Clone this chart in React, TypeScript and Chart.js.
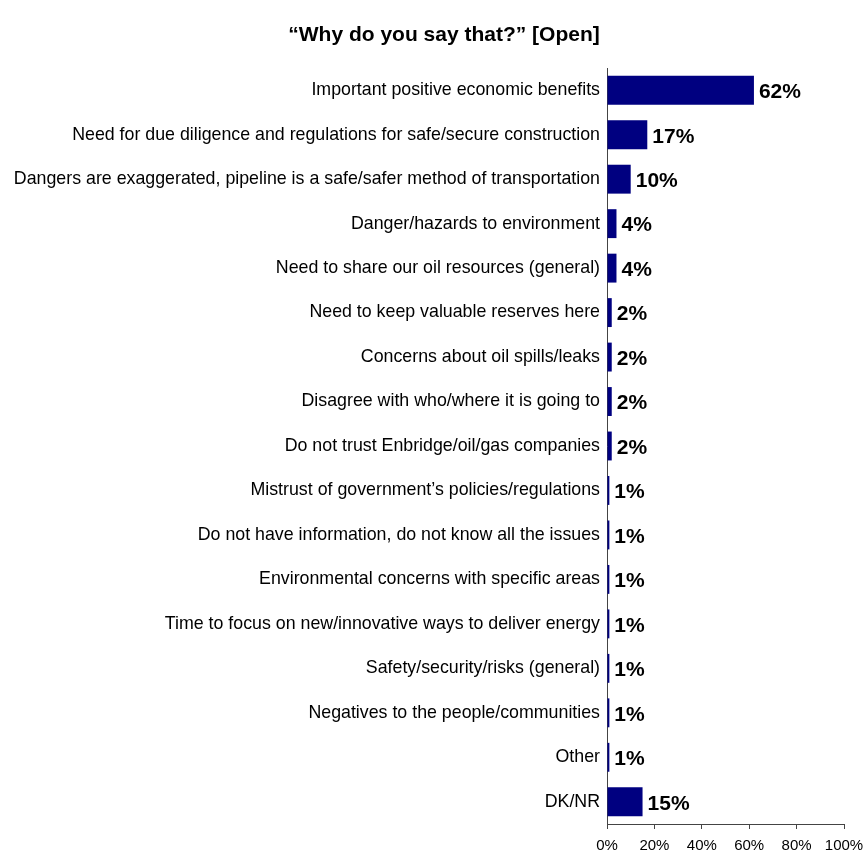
import React, { useEffect, useRef } from "react";
import { Chart, registerables } from "chart.js";

Chart.register(...registerables);

const TITLE = "\u201CWhy do you say that?\u201D [Open]";

const categories: string[] = [
  "Important positive economic benefits",
  "Need for due diligence and regulations for safe/secure construction",
  "Dangers are exaggerated, pipeline is a safe/safer method of transportation",
  "Danger/hazards to environment",
  "Need to share our oil resources (general)",
  "Need to keep valuable reserves here",
  "Concerns about oil spills/leaks",
  "Disagree with who/where it is going to",
  "Do not trust Enbridge/oil/gas companies",
  "Mistrust of government\u2019s policies/regulations",
  "Do not have information, do not know all the issues",
  "Environmental concerns with specific areas",
  "Time to focus on new/innovative ways to deliver energy",
  "Safety/security/risks (general)",
  "Negatives to the people/communities",
  "Other",
  "DK/NR",
];

const values: number[] = [62, 17, 10, 4, 4, 2, 2, 2, 2, 1, 1, 1, 1, 1, 1, 1, 15];

const xTicks: number[] = [0, 20, 40, 60, 80, 100];

const FAMILY = "'Liberation Sans', Arial, sans-serif";

export default function App() {
  const ref = useRef<HTMLCanvasElement | null>(null);

  useEffect(() => {
    document.body.style.margin = "0";

    const overlay = {
      id: "overlay",
      afterDraw(chart: any) {
        const ctx = chart.ctx;
        ctx.save();
        ctx.fillStyle = "#000";
        ctx.font = `bold 21px ${FAMILY}`;
        ctx.textAlign = "center";
        ctx.textBaseline = "middle";
        ctx.fillText(TITLE, 444, 35);
        const meta = chart.getDatasetMeta(0);
        ctx.font = `bold 21px ${FAMILY}`;
        ctx.textAlign = "left";
        meta.data.forEach((bar: any, i: number) => {
          ctx.fillText(values[i] + "%", bar.x + 5, bar.y + 2);
        });
        ctx.restore();
      },
    };

    const chart = new Chart(ref.current!, {
      type: "bar",
      data: {
        labels: categories,
        datasets: [
          {
            data: values,
            backgroundColor: "#000080",
            borderWidth: 0,
            barPercentage: 1,
            categoryPercentage: 0.65,
          },
        ],
      },
      options: {
        indexAxis: "y",
        animation: false,
        responsive: false,
        maintainAspectRatio: false,
        layout: { padding: { top: 68, right: 23, left: 0, bottom: 0 } },
        plugins: {
          legend: { display: false },
          title: { display: false },
          tooltip: { enabled: false },
        },
        scales: {
          y: {
            afterFit: (axis: any) => {
              axis.width = 607;
              axis.paddingTop = 0;
              axis.paddingBottom = 0;
            },
            grid: { display: false, drawTicks: false },
            border: { display: true, color: "#444", width: 1 },
            ticks: {
              color: "#000",
              font: { family: FAMILY, size: 17.8 },
              padding: 7,
              autoSkip: false,
            },
          },
          x: {
            min: 0,
            max: 100,
            afterFit: (axis: any) => {
              axis.height = 28;
              axis.paddingLeft = 0;
              axis.paddingRight = 0;
            },
            afterBuildTicks: (axis: any) => {
              axis.ticks = xTicks.map((v) => ({ value: v }));
            },
            grid: {
              display: true,
              drawOnChartArea: false,
              drawTicks: true,
              tickLength: 5,
              color: "#444",
            },
            border: { display: true, color: "#444", width: 1 },
            ticks: {
              color: "#000",
              font: { family: FAMILY, size: 15 },
              padding: 8,
              maxRotation: 0,
              callback: (v: any) => v + "%",
            },
          },
        },
      },
      plugins: [overlay],
    });
    return () => chart.destroy();
  }, []);

  return (
    <div style={{ width: 867, height: 852 }}>
      <canvas ref={ref} width={867} height={852} style={{ display: "block" }} />
    </div>
  );
}
